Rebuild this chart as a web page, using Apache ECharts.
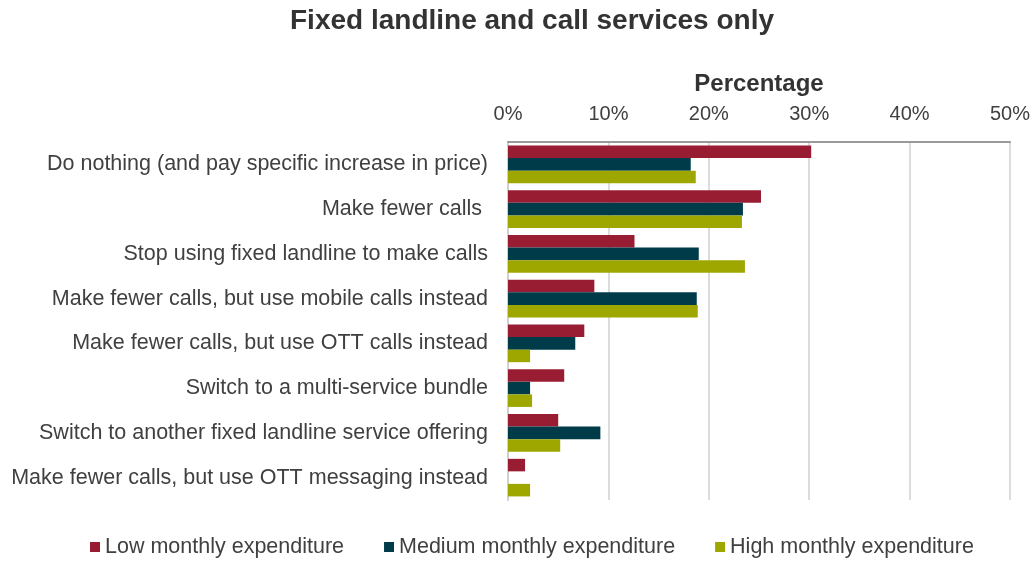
<!DOCTYPE html>
<html>
<head>
<meta charset="utf-8">
<script src="https://cdn.jsdelivr.net/npm/echarts@6/dist/echarts.min.js"></script>
<style>
  html, body { margin: 0; padding: 0; background: #fff; }
  #chart { width: 1035px; height: 563px; }
</style>
</head>
<body>
<div id="chart"></div>
<script>
const categories = [
  "Do nothing (and pay specific increase in price)",
  "Make fewer calls ",
  "Stop using fixed landline to make calls",
  "Make fewer calls, but use mobile calls instead",
  "Make fewer calls, but use OTT calls instead",
  "Switch to a multi-service bundle",
  "Switch to another fixed landline service offering",
  "Make fewer calls, but use OTT messaging instead"
];
const lowValues = [30.2, 25.2, 12.6, 8.6, 7.6, 5.6, 5.0, 1.7];
const mediumValues = [18.2, 23.4, 19.0, 18.8, 6.7, 2.2, 9.2, 0];
const highValues = [18.7, 23.3, 23.6, 18.9, 2.2, 2.4, 5.2, 2.2];

const font = "Liberation Sans, Arial, sans-serif";
const myChart = echarts.init(document.getElementById("chart"));

const makeSeries = (name, data, color) => ({
  name: name,
  type: "bar",
  data: data,
  barGap: "0%",
  barCategoryGap: "16%",
  itemStyle: { color: color },
});

myChart.setOption({
  animation: false,
  textStyle: { fontFamily: font },
  title: {
    text: "Fixed landline and call services only",
    left: 527,
    textAlign: "center",
    top: 2,
    textStyle: { fontSize: 28, fontWeight: "bold", color: "#333", fontFamily: font },
  },
  legend: {
    bottom: 0,
    left: 85,
    itemWidth: 10,
    itemHeight: 10,
    itemGap: 40,
    icon: "rect",
    textStyle: { fontSize: 21.5, color: "#404040", fontFamily: font },
  },
  grid: {
    left: 508,
    right: 25,
    top: 142,
    bottom: 63,
  },
  xAxis: {
    type: "value",
    position: "top",
    min: 0,
    max: 50,
    interval: 10,
    name: "Percentage",
    nameLocation: "middle",
    nameGap: 46,
    nameTextStyle: { fontSize: 24, fontWeight: "bold", color: "#333" },
    axisLabel: {
      formatter: "{value}%",
      fontSize: 20,
      color: "#404040",
      margin: 18,
    },
    axisLine: { show: true, lineStyle: { color: "#999", width: 2 } },
    axisTick: { show: false },
    splitLine: { lineStyle: { color: "#dcdcdc", width: 2 } },
  },
  yAxis: {
    type: "category",
    data: categories,
    inverse: true,
    axisLine: { show: true, lineStyle: { color: "#d0d0d0", width: 2 } },
    axisTick: { show: false },
    axisLabel: { fontSize: 21.5, color: "#404040", margin: 20 },
  },
  series: [
    makeSeries("Low monthly expenditure", lowValues, "#981d32"),
    makeSeries("Medium monthly expenditure", mediumValues, "#003b4a"),
    makeSeries("High monthly expenditure", highValues, "#9ea700"),
  ],
});
</script>
</body>
</html>
